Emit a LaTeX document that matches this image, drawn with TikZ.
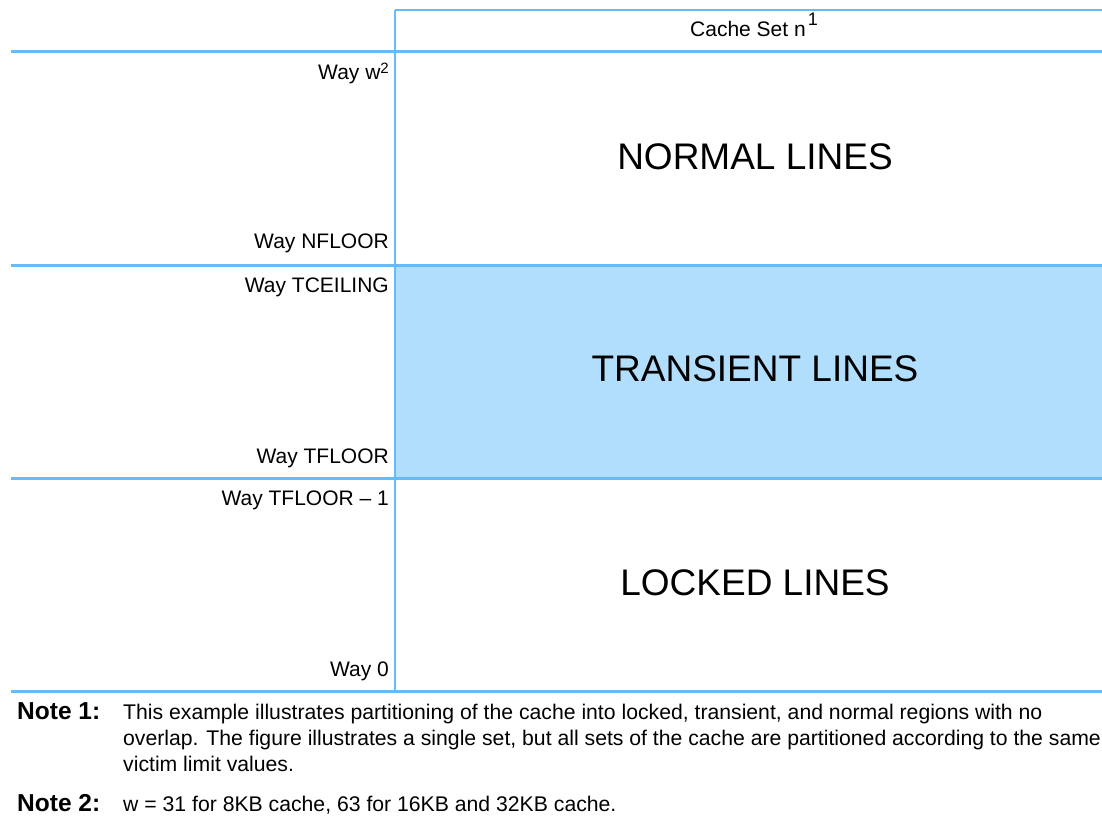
\documentclass[tikz,border=0pt]{standalone}
\usepackage{fontspec}
\setmainfont{Liberation Sans}
\definecolor{lineblue}{RGB}{102,187,250}
\definecolor{fillblue}{RGB}{176,222,252}
\tikzset{
  grid line/.style={draw=lineblue, line width=2.2pt},
  waylabel/.style={anchor=base east, inner sep=0pt, font=\fontsize{21}{25}\selectfont},
  bigtext/.style={anchor=center, inner sep=0pt, font=\fontsize{37}{44}\selectfont},
  notelabel/.style={anchor=base west, inner sep=0pt, font=\fontsize{24.5}{28}\selectfont\bfseries},
  notetext/.style={anchor=base west, inner sep=0pt, font=\fontsize{21.2}{26}\selectfont},
}
\begin{document}
\begin{tikzpicture}[x=1pt,y=-1pt]
\useasboundingbox (0,0) rectangle (1102,822);
% transient region fill
\fill[fillblue] (395,265.5) rectangle (1102,478.5);
% grid
\coordinate (tl) at (395,10);
\coordinate (tr) at (1102,10);
\coordinate (bl) at (395,691.5);
\draw[grid line] (tl) -- (tr);
\draw[grid line] (11,51.5) -- (1102,51.5);
\draw[grid line] (11,265.5) -- (1102,265.5);
\draw[grid line] (11,478.5) -- (1102,478.5);
\draw[grid line] (11,691.5) -- (1102,691.5);
\draw[grid line] (tl) -- (bl);
% header
\node[anchor=base, inner sep=0pt, font=\fontsize{21}{25}\selectfont] (hdr) at (754,36.7)
  {Cache Set n\hspace{2pt}\raisebox{11.5pt}{\fontsize{18}{20}\selectfont 1}};
% way labels
\node[waylabel] (ww) at (389,79) {Way w\raisebox{6pt}{\fontsize{15}{17}\selectfont 2}};
\node[waylabel] (wnf) at (389,248.5) {Way NFLOOR};
\node[waylabel] (wtc) at (389,292.7) {Way TCEILING};
\node[waylabel] (wtf) at (389,463.5) {Way TFLOOR};
\node[waylabel] (wtf1) at (389,505.7) {Way TFLOOR -- 1};
\node[waylabel] (w0) at (389,676.5) {Way 0};
% region labels
\node[bigtext] (normal) at (755,157) {NORMAL LINES};
\node[bigtext] (trans) at (755,369) {TRANSIENT LINES};
\node[bigtext] (locked) at (755,583) {LOCKED LINES};
% notes
\node[notelabel] (n1) at (17,719.5) {Note 1:};
\node[notetext] (n1a) at (123,719.5) {This example illustrates partitioning of the cache into locked, transient, and normal regions with no};
\node[notetext] (n1b) at (123,745.5) {overlap. The figure illustrates a single set, but all sets of the cache are partitioned according to the same};
\node[notetext] (n1c) at (123,771.5) {victim limit values.};
\node[notelabel] (n2) at (17,811.5) {Note 2:};
\node[notetext] (n2t) at (123,811.5) {w = 31 for 8KB cache, 63 for 16KB and 32KB cache.};
\end{tikzpicture}
\end{document}
